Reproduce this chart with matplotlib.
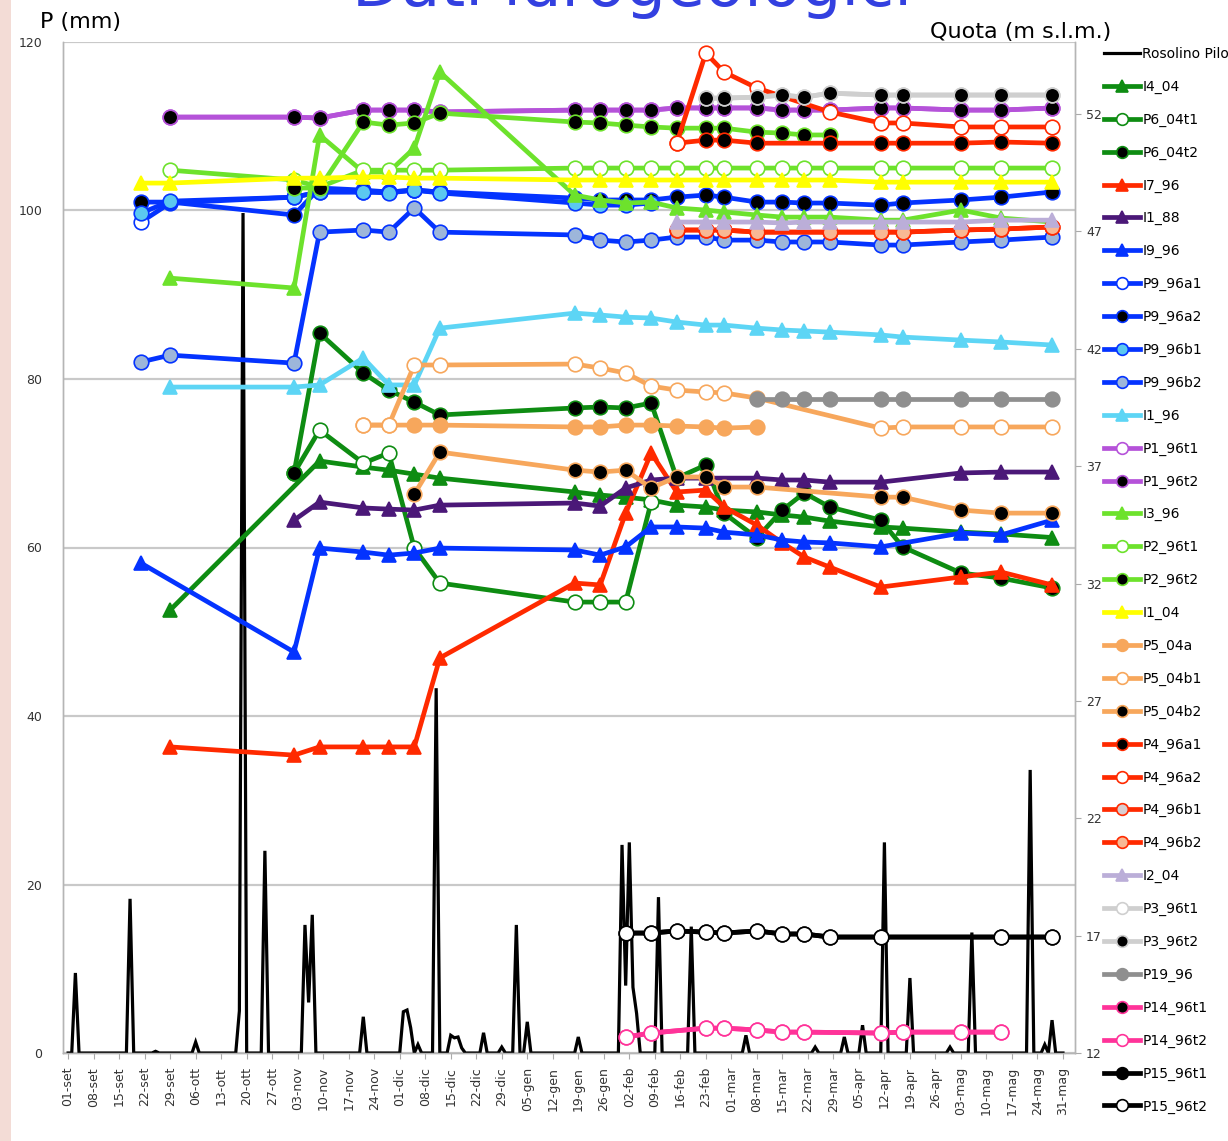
import numpy as np
import pandas as pd
import matplotlib
matplotlib.use("Agg")
import matplotlib.pyplot as plt
from matplotlib.patches import Rectangle

plt.rcParams['font.family'] = ['Liberation Sans Narrow', 'DejaVu Sans']

nan = np.nan

# pioggia giornaliera stazione Rosolino Pilo (mm), giorni non elencati = 0
date_pioggia = ['2011-09-03', '2011-09-18', '2011-09-25', '2011-10-06', '2011-10-18', '2011-10-19',
                '2011-10-25', '2011-11-05', '2011-11-06', '2011-11-07', '2011-11-21', '2011-12-02',
                '2011-12-03', '2011-12-04', '2011-12-06', '2011-12-11', '2011-12-15', '2011-12-16',
                '2011-12-17', '2011-12-18', '2011-12-24', '2011-12-29', '2012-01-02', '2012-01-05',
                '2012-01-19', '2012-01-31', '2012-02-01', '2012-02-02', '2012-02-03', '2012-02-04',
                '2012-02-10', '2012-02-19', '2012-03-05', '2012-03-24', '2012-04-01', '2012-04-06',
                '2012-04-12', '2012-04-19', '2012-04-30', '2012-05-06', '2012-05-22', '2012-05-26',
                '2012-05-28']
mm_pioggia = [9.5, 18.3, 0.2, 1.3, 5.0, 99.7,
              24.0, 15.2, 6.0, 16.4, 4.3, 4.9,
              5.1, 3.0, 1.0, 43.3, 2.1, 1.8,
              1.9, 0.6, 2.4, 0.7, 15.2, 3.7,
              1.9, 24.7, 8.0, 25.0, 7.8, 4.7,
              18.5, 15.0, 2.1, 0.7, 1.9, 3.3,
              25.0, 8.9, 0.7, 14.3, 33.6, 1.0,
              3.9]

# date dei rilievi piezometrici
date_rilievi = ['2011-09-21', '2011-09-29', '2011-11-02', '2011-11-09', '2011-11-21', '2011-11-28',
                '2011-12-05', '2011-12-12', '2012-01-18', '2012-01-25', '2012-02-01', '2012-02-08',
                '2012-02-15', '2012-02-23', '2012-02-28', '2012-03-08', '2012-03-15', '2012-03-21',
                '2012-03-28', '2012-04-11', '2012-04-17', '2012-05-03', '2012-05-14', '2012-05-28']

# quote piezometriche (m s.l.m.), una per data di rilievo
I4_04 = [nan, 30.87, nan, 37.22, 36.96, 36.83, 36.66, 36.49, 35.90, 35.77, 35.68, 35.56,
         35.34, 35.26, 35.13, 35.05, 34.92, 34.83, 34.66, 34.41, 34.36, 34.19, 34.11, 33.96]
P6_04t1 = [nan, nan, 36.71, 38.54, 37.13, 37.56, 33.51, 32.02, 31.21, 31.21, 31.21, 35.47,
           nan, nan, nan, nan, nan, nan, nan, nan, nan, nan, nan, nan]
P6_04t2 = [nan, nan, 36.71, 42.67, 40.97, 40.24, 39.73, 39.18, 39.48, 39.52, 39.48, 39.69,
           36.49, 37.05, 35.00, 33.94, 35.13, 35.86, 35.26, 34.70, 33.56, 32.45, 32.23, 31.81]
I7_96 = [nan, 25.04, 24.69, 25.04, 25.04, 25.04, 25.04, 28.83, 32.02, 31.94, 35.00, 37.56,
         35.90, 35.98, 35.26, 34.49, 33.73, 33.13, 32.70, 31.85, nan, 32.28, 32.49, 31.94]
I1_88 = [nan, nan, 34.70, 35.47, 35.22, 35.17, 35.13, 35.34, 35.43, 35.30, 36.07, 36.41,
         36.49, 36.49, nan, 36.49, 36.41, 36.41, 36.32, 36.32, nan, 36.71, 36.75, 36.75]
I9_96 = [32.87, nan, 29.08, 33.51, 33.34, 33.21, 33.30, 33.51, 33.43, 33.21, 33.56, 34.41,
         34.41, 34.36, 34.19, 34.07, 33.85, 33.77, 33.73, 33.56, nan, 34.15, 34.07, 34.70]
P9_96a1 = [47.40, 48.21, 48.46, 48.68, 48.68, 48.68, 48.76, 48.68, nan, nan, nan, nan,
           nan, nan, nan, nan, nan, nan, nan, nan, nan, nan, nan, nan]
P9_96a2 = [48.25, 48.25, 47.70, 48.85, 48.76, 48.68, 48.76, 48.68, 48.42, 48.34, 48.34, 48.34,
           48.46, 48.55, 48.46, 48.25, 48.25, 48.21, 48.21, 48.12, 48.21, 48.34, 48.46, 48.68]
P9_96b1 = [47.78, 48.29, 48.46, 48.68, 48.68, 48.64, 48.76, 48.64, 48.21, 48.12, 48.12, 48.21,
           nan, nan, nan, nan, nan, nan, nan, nan, nan, nan, nan, nan]
P9_96b2 = [41.44, 41.73, 41.39, 46.97, 47.06, 46.97, 48.00, 46.97, 46.85, 46.63, 46.55, 46.63,
           46.76, 46.76, 46.63, 46.63, 46.55, 46.55, 46.55, 46.42, 46.42, 46.55, 46.63, 46.76]
I1_96 = [nan, 40.37, 40.37, 40.46, 41.61, 40.46, 40.46, 42.88, 43.52, 43.44, 43.35, 43.31,
         43.14, 43.01, 43.01, 42.88, 42.80, 42.76, 42.71, 42.59, 42.50, 42.37, 42.29, 42.16]
P1_96t1 = [nan, 51.87, 51.87, 51.83, 52.17, 52.17, 52.17, 52.09, 52.17, 52.17, 52.17, 52.17,
           52.26, 52.26, 52.26, 52.26, 52.17, 52.17, 52.17, 52.26, 52.26, 52.17, 52.17, 52.26]
P1_96t2 = [nan, 51.87, 51.87, 51.83, 52.17, 52.17, 52.17, 52.09, 52.17, 52.17, 52.17, 52.17,
           52.26, 52.26, 52.26, 52.26, 52.17, 52.17, 52.17, 52.26, 52.26, 52.17, 52.17, 52.26]
I3_96 = [nan, 45.01, 44.59, 51.11, 49.53, 49.53, 50.55, 53.79, 48.55, 48.34, 48.21, 48.25,
         48.00, 47.91, 47.83, 47.70, 47.61, 47.61, 47.61, 47.48, 47.48, 47.91, 47.57, 47.40]
P2_96t1 = [nan, 49.61, 49.19, 48.89, 49.61, 49.61, 49.61, 49.61, 49.70, 49.70, 49.70, 49.70,
           49.70, 49.70, 49.70, 49.70, 49.70, 49.70, 49.70, 49.70, 49.70, 49.70, 49.70, 49.70]
P2_96t2 = [nan, nan, 48.85, 48.85, 51.66, 51.53, 51.62, 52.04, 51.66, 51.62, 51.53, 51.45,
           51.40, 51.40, 51.40, 51.23, 51.19, 51.11, 51.11, nan, nan, nan, nan, nan]
I1_04 = [49.06, 49.06, 49.27, 49.27, 49.32, 49.32, 49.27, 49.27, 49.19, 49.19, 49.19, 49.19,
         49.19, 49.19, 49.19, 49.19, 49.19, 49.19, 49.19, 49.10, 49.10, 49.10, 49.10, 49.10]
P5_04a = [nan, nan, nan, nan, 38.75, 38.75, 38.75, 38.75, 38.67, 38.67, 38.75, 38.75,
          38.71, 38.67, 38.62, 38.67, nan, nan, nan, nan, nan, nan, nan, nan]
P5_04b1 = [nan, nan, nan, nan, 38.75, 38.75, 41.31, 41.31, 41.35, 41.18, 40.97, 40.41,
           40.24, 40.16, 40.12, 39.90, nan, nan, nan, 38.62, 38.67, 38.67, 38.67, 38.67]
P5_04b2 = [nan, nan, nan, nan, nan, nan, 35.81, 37.60, 36.83, 36.75, 36.83, 36.07,
           36.54, 36.54, 36.11, 36.11, nan, nan, nan, 35.68, 35.68, 35.13, 35.00, 35.00]
P4_96a1 = [nan, nan, nan, nan, nan, nan, nan, nan, nan, nan, nan, nan,
           50.76, 50.89, 50.89, 50.76, nan, nan, 50.76, 50.76, 50.76, 50.76, 50.81, 50.76]
P4_96a2 = [nan, nan, nan, nan, nan, nan, nan, nan, nan, nan, nan, nan,
           50.76, 54.60, 53.79, 53.11, nan, nan, 52.09, 51.62, 51.62, 51.45, 51.45, 51.45]
P4_96b1 = [nan, nan, nan, nan, nan, nan, nan, nan, nan, nan, nan, nan,
           47.06, 47.06, 47.06, 46.97, nan, nan, 46.97, 46.97, 46.97, 47.06, 47.10, 47.19]
P4_96b2 = [nan, nan, nan, nan, nan, nan, nan, nan, nan, nan, nan, nan,
           47.06, 47.06, 47.06, 46.97, nan, nan, 46.97, 46.97, 46.97, 47.06, 47.10, 47.19]
I2_04 = [nan, nan, nan, nan, nan, nan, nan, nan, nan, nan, nan, nan,
         47.40, 47.40, 47.40, 47.40, 47.36, 47.40, 47.40, 47.40, 47.40, 47.40, 47.48, 47.48]
P3_96t1 = [nan, nan, nan, nan, nan, nan, nan, nan, nan, nan, nan, nan,
           nan, 52.68, 52.68, 52.72, 52.81, 52.72, 52.89, 52.81, 52.81, 52.81, 52.81, 52.81]
P3_96t2 = [nan, nan, nan, nan, nan, nan, nan, nan, nan, nan, nan, nan,
           nan, 52.68, 52.68, 52.72, 52.81, 52.72, 52.89, 52.81, 52.81, 52.81, 52.81, 52.81]
P19_96 = [nan, nan, nan, nan, nan, nan, nan, nan, nan, nan, nan, nan,
          nan, nan, nan, 39.86, 39.86, 39.86, 39.86, 39.86, 39.86, 39.86, 39.86, 39.86]
P14_96t1 = [nan, nan, nan, nan, nan, nan, nan, nan, nan, nan, 12.68, 12.85,
            nan, 13.06, 13.06, 12.98, 12.89, 12.89, nan, 12.85, 12.89, 12.89, 12.89, nan]
P14_96t2 = [nan, nan, nan, nan, nan, nan, nan, nan, nan, nan, 12.68, 12.85,
            nan, 13.06, 13.06, 12.98, 12.89, 12.89, nan, 12.85, 12.89, 12.89, 12.89, nan]
P15_96t1 = [nan, nan, nan, nan, nan, nan, nan, nan, nan, nan, 17.11, 17.11,
            17.20, 17.15, 17.11, 17.20, 17.07, 17.07, 16.94, 16.94, nan, nan, 16.94, 16.94]
P15_96t2 = [nan, nan, nan, nan, nan, nan, nan, nan, nan, nan, 17.11, 17.11,
            17.20, 17.15, 17.11, 17.20, 17.07, 17.07, 16.94, 16.94, nan, nan, 16.94, 16.94]

mesi = ['gen', 'feb', 'mar', 'apr', 'mag', 'giu', 'lug', 'ago', 'set', 'ott', 'nov', 'dic']

# colori e marcatori (nome, valori, colore linea, marker, riempimento)
verde_scuro = '#0e8c12'
rosso = '#ff2a00'
blu = '#0433ff'
serie = [
    ('I4_04', I4_04, verde_scuro, '^', verde_scuro),
    ('P6_04t1', P6_04t1, verde_scuro, 'o', 'white'),
    ('P6_04t2', P6_04t2, verde_scuro, 'o', 'black'),
    ('I7_96', I7_96, rosso, '^', rosso),
    ('I1_88', I1_88, '#4b1878', '^', '#4b1878'),
    ('I9_96', I9_96, blu, '^', blu),
    ('P9_96a1', P9_96a1, blu, 'o', 'white'),
    ('P9_96a2', P9_96a2, blu, 'o', 'black'),
    ('P9_96b1', P9_96b1, blu, 'o', '#5bc8f0'),
    ('P9_96b2', P9_96b2, blu, 'o', '#9db6da'),
    ('I1_96', I1_96, '#5dd5f5', '^', '#5dd5f5'),
    ('P1_96t1', P1_96t1, '#b552d9', 'o', 'white'),
    ('P1_96t2', P1_96t2, '#b552d9', 'o', 'black'),
    ('I3_96', I3_96, '#6de22c', '^', '#6de22c'),
    ('P2_96t1', P2_96t1, '#6de22c', 'o', 'white'),
    ('P2_96t2', P2_96t2, '#6de22c', 'o', 'black'),
    ('I1_04', I1_04, '#ffff00', '^', '#ffff00'),
    ('P5_04a', P5_04a, '#f7a75c', 'o', '#f7a75c'),
    ('P5_04b1', P5_04b1, '#f7a75c', 'o', 'white'),
    ('P5_04b2', P5_04b2, '#f7a75c', 'o', 'black'),
    ('P4_96a1', P4_96a1, rosso, 'o', 'black'),
    ('P4_96a2', P4_96a2, rosso, 'o', 'white'),
    ('P4_96b1', P4_96b1, rosso, 'o', '#d8cdd0'),
    ('P4_96b2', P4_96b2, rosso, 'o', '#f8b894'),
    ('I2_04', I2_04, '#bbaed8', '^', '#bbaed8'),
    ('P3_96t1', P3_96t1, '#cfcfcf', 'o', 'white'),
    ('P3_96t2', P3_96t2, '#cfcfcf', 'o', 'black'),
    ('P19_96', P19_96, '#8f8f8f', 'o', '#8f8f8f'),
    ('P14_96t1', P14_96t1, '#ff3399', 'o', 'black'),
    ('P14_96t2', P14_96t2, '#ff3399', 'o', 'white'),
    ('P15_96t1', P15_96t1, 'black', 'o', 'black'),
    ('P15_96t2', P15_96t2, 'black', 'o', 'white'),
]

fig = plt.figure(figsize=(12.28, 11.41), dpi=100)
# sfondo della diapositiva appena visibile sul bordo sinistro
fig.patches.append(Rectangle((0, 0), 11 / 1228, 1, transform=fig.transFigure,
                             facecolor='#f3dcd6', edgecolor='none', zorder=0))

ax = fig.add_axes([63 / 1228, 1 - 1053 / 1141, (1075 - 63) / 1228, (1053 - 42) / 1141])
ax2 = ax.twinx()

giorni = pd.date_range('2011-09-01', '2012-05-31', freq='D')
pioggia = pd.Series(0.0, index=giorni)
pioggia[pd.to_datetime(date_pioggia)] = mm_pioggia
h_rain, = ax.plot(pioggia.index, pioggia.values, color='black', lw=2.3, label='Rosolino Pilo',
                  solid_joinstyle='miter', zorder=3)

x_ril = pd.to_datetime(date_rilievi)
handles = [h_rain]
for nome, valori, col, mk, fc in serie:
    v = np.array(valori, dtype=float)
    ok = ~np.isnan(v)
    h, = ax2.plot(x_ril[ok], v[ok], color=col, lw=3.4, marker=mk, markersize=10.5,
                  markerfacecolor=fc, markeredgecolor=col, markeredgewidth=1.2, label=nome)
    handles.append(h)

ax.set_ylim(0, 120)
ax2.set_ylim(12, 55.07)
ax.set_xlim(pd.Timestamp('2011-09-01') - pd.Timedelta(days=1.4),
            pd.Timestamp('2012-05-31') + pd.Timedelta(days=3.3))

ax.set_yticks(range(0, 121, 20))
ax2.set_yticks(range(12, 53, 5))
ax.yaxis.grid(True, color='#c9c9c9', lw=1.6)
ax.set_axisbelow(True)

tick_date = pd.date_range('2011-09-01', '2012-05-31', freq='7D')
ax.set_xticks(tick_date)
ax.set_xticklabels([f"{d.day:02d}-{mesi[d.month - 1]}" for d in tick_date], rotation=90,
                   fontsize=9, color='#333333')
ax.tick_params(axis='x', length=4, color='#aaaaaa', pad=6)
ax.tick_params(axis='y', length=0, labelsize=9, labelcolor='#333333', pad=15)
ax2.tick_params(axis='y', length=4, color='#aaaaaa', labelsize=9, labelcolor='#333333', pad=4)

for a in (ax, ax2):
    a.spines['top'].set_visible(False)
    for s in ('left', 'right', 'bottom'):
        a.spines[s].set_color('#b5b5b5')
        a.spines[s].set_linewidth(1.0)

fig.text(40 / 1228, 1 - 22 / 1141, 'P (mm)', fontsize=16, va='center', ha='left')
fig.text(930 / 1228, 1 - 32 / 1141, 'Quota (m s.l.m.)', fontsize=16, va='center', ha='left')
fig.text(0.515, 1 - 6 / 1141, 'Dati idrogeologici', fontsize=46, color='#3340e0',
         ha='center', va='baseline')

fig.legend(handles=handles, loc='upper left', bbox_to_anchor=(1104 / 1228, 1 - 47 / 1141),
           frameon=False, fontsize=10, numpoints=1, handlelength=2.6, handletextpad=0.15,
           labelspacing=1.35, borderpad=0, borderaxespad=0, markerscale=0.8)

fig.savefig('out.png', dpi=100, facecolor='white')
